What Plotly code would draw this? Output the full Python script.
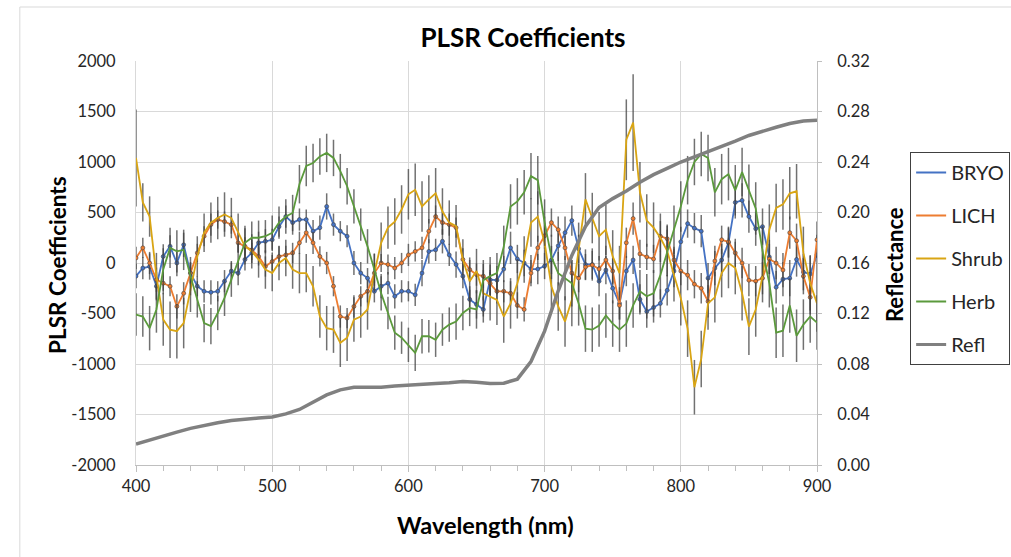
import plotly.graph_objects as go

wavelength = list(range(400, 901, 5))

bryo = [-130, -50, -35, -230, 65, 165, 0, 180, -100, -230,
        -280, -290, -280, -180, -80, -100, 35, 100, 200, 215,
        230, 360, 460, 400, 430, 430, 315, 350, 560, 380,
        315, 265, 0, -100, -150, -280, -230, -200, -330, -280,
        -280, -315, -100, 115, 130, 215, 80, -15, -130, -360,
        -410, -460, -165, -170, -60, 150, 40, 0, -60, -60,
        -30, 30, 170, 300, 420, 140, -15, -15, -180, -70,
        -250, -400, -80, 30, -360, -480, -440, -400, -270, -80,
        210, 390, 345, 315, -150, -50, 30, 200, 600, 620,
        460, 340, 360, 60, -240, -160, -150, 35, -90, -110,
        80]

lich = [50, 150, 0, -165, -200, -230, -430, -300, -100, 100,
        265, 380, 430, 410, 380, 200, 165, 130, 65, -35,
        15, 65, 80, 100, 200, 300, 200, 65, 0, -230,
        -530, -545, -430, -330, -280, -100, 0, -15, -50, 0,
        80, 115, 150, 315, 460, 400, 380, 350, 35, -65,
        -115, -130, -200, -280, -280, -300, -420, -460, -100, 150,
        270, 400, 330, 150, -100, -150, -40, -20, -60, 30,
        -80, -420, 200, 440, 90, 60, 40, 265, 240, 30,
        -80, -120, -210, -250, -380, 20, 230, 210, 100, 0,
        -170, -180, -150, 40, 0, -70, 300, 220, -130, -340,
        230]

shrub = [1040, 600, 460, -130, -560, -660, -675, -595, -265, 65,
         300, 400, 445, 480, 445, 300, 165, 115, 35, -65,
         -100, 0, 50, -65, -100, -100, -230, -530, -645, -660,
         -790, -740, -560, -530, -460, -100, 200, 350, 410, 530,
         680, 725, 560, 630, 690, 510, 400, 365, 35, -180,
         -80, -300, -330, -365, -530, -400, -200, 35, 400, 460,
         200, -230, -430, -580, -365, 130, 630, 445, 265, 330,
         65, -100, 1220, 1390, 700, 420, 350, 250, 120, -120,
         -350, -650, -1230, -950, -400, -340, -100, 0, -50, -300,
         -630, -460, -130, 330, 545, 580, 690, 710, 100, -200,
         -400]

herb = [-510, -530, -645, -460, -65, 150, 115, 130, -130, -360,
        -595, -625, -495, -345, -165, 35, 200, 250, 250, 265,
        300, 400, 460, 495, 780, 960, 990, 1055, 1090, 1040,
        910, 760, 560, 380, 165, -65, -300, -495, -690, -740,
        -810, -890, -725, -725, -760, -660, -610, -580, -495, -445,
        -460, -170, -130, -100, 160, 560, 610, 700, 860, 820,
        400, 60, -100, -150, -200, -400, -650, -660, -620, -520,
        -600, -660, -600, -420, -280, -330, -300, -120, 100, 330,
        560, 820, 1000, 1080, 1040, 700, 830, 880, 720, 900,
        725, 540, 120, -200, -690, -670, -420, -720, -610, -530,
        -590]

bryo_err = [120, 110, 130, 140, 120, 110, 130, 120, 110, 100,
            110, 120, 100, 110, 100, 120, 110, 100, 110, 120,
            110, 100, 110, 120, 110, 100, 110, 120, 130, 110,
            100, 110, 120, 110, 100, 110, 120, 110, 120, 110,
            100, 110, 130, 120, 110, 120, 110, 130, 120, 130,
            140, 130, 150, 140, 130, 160, 140, 130, 140, 150,
            130, 140, 150, 160, 150, 140, 150, 160, 150, 140,
            150, 160, 150, 140, 150, 160, 150, 140, 150, 160,
            150, 140, 150, 160, 150, 170, 160, 150, 160, 170,
            160, 170, 180, 170, 160, 170, 180, 170, 180, 190,
            200]

lich_err = [110, 100, 110, 120, 110, 100, 120, 110, 100, 90,
            100, 110, 90, 100, 90, 100, 90, 100, 90, 100,
            90, 100, 90, 100, 110, 100, 110, 100, 110, 100,
            110, 100, 110, 100, 110, 100, 90, 100, 110, 100,
            110, 100, 110, 120, 110, 120, 110, 100, 110, 120,
            110, 120, 130, 120, 110, 120, 130, 120, 130, 120,
            130, 140, 130, 120, 130, 140, 130, 140, 130, 140,
            130, 140, 150, 160, 140, 130, 140, 150, 140, 130,
            140, 150, 140, 150, 160, 150, 140, 150, 140, 150,
            160, 150, 160, 150, 160, 170, 160, 170, 180, 170,
            180]

shrub_err = [480, 190, 200, 230, 260, 280, 270, 250, 220, 200,
             190, 200, 210, 220, 200, 190, 180, 170, 180, 190,
             180, 170, 180, 190, 200, 190, 200, 210, 220, 230,
             240, 230, 220, 210, 200, 190, 200, 210, 230, 240,
             250, 260, 250, 240, 250, 230, 220, 210, 200, 210,
             220, 230, 240, 250, 260, 250, 240, 230, 240, 250,
             260, 250, 240, 250, 260, 270, 260, 250, 240, 250,
             260, 270, 400, 480, 300, 260, 250, 240, 250, 260,
             270, 280, 270, 280, 260, 250, 240, 250, 260, 270,
             280, 270, 260, 250, 240, 250, 260, 270, 260, 270,
             280]

herb_err = [210, 200, 220, 230, 210, 200, 210, 200, 190, 180,
            190, 180, 170, 180, 170, 160, 170, 160, 170, 160,
            170, 160, 170, 180, 190, 200, 190, 180, 190, 180,
            170, 180, 170, 160, 170, 160, 170, 160, 170, 160,
            170, 180, 170, 160, 170, 160, 170, 180, 170, 180,
            190, 200, 190, 200, 210, 220, 230, 220, 230, 240,
            230, 220, 210, 220, 230, 220, 230, 220, 210, 220,
            230, 220, 230, 220, 210, 220, 230, 240, 230, 240,
            250, 240, 230, 220, 230, 240, 250, 260, 250, 240,
            250, 260, 250, 240, 250, 260, 270, 260, 250, 260,
            270]

refl_wavelength = list(range(400, 901, 10))
refl = [0.0166, 0.0195, 0.0225, 0.0260, 0.0290, 0.0315, 0.0335, 0.0352, 0.0364, 0.0372,
        0.0380, 0.0405, 0.0440, 0.0495, 0.0555, 0.0595, 0.0615, 0.0615, 0.0615, 0.0625,
        0.0634, 0.0640, 0.0645, 0.0652, 0.0662, 0.0655, 0.0645, 0.0648, 0.0680, 0.0820,
        0.1060, 0.1380, 0.1660, 0.1890, 0.2040, 0.2110, 0.2170, 0.2240, 0.2300, 0.2350,
        0.2400, 0.2440, 0.2480, 0.2520, 0.2565, 0.2610, 0.2645, 0.2675, 0.2705, 0.2725,
        0.2730]

y_ticks = [-2000, -1500, -1000, -500, 0, 500, 1000, 1500, 2000]
y2_ticks = [0.00, 0.04, 0.08, 0.12, 0.16, 0.20, 0.24, 0.28, 0.32]
x_ticks = [400, 500, 600, 700, 800, 900]

series = [
    ("BRYO", bryo, bryo_err, "#4472c4", True),
    ("LICH", lich, lich_err, "#ed7d31", True),
    ("Shrub", shrub, shrub_err, "#d9a514", False),
    ("Herb", herb, herb_err, "#5b9a3c", False),
]

FONT = "Lato, 'Open Sans', sans-serif"
fig = go.Figure()

for name, vals, err, color, mark in series:
    fig.add_trace(go.Scatter(
        x=wavelength, y=vals, name=name, mode="lines+markers" if mark else "lines",
        line=dict(color=color, width=1.8),
        marker=dict(size=4, color=color, line=dict(color="#404040", width=0.6)),
        error_y=dict(type="data", array=err, visible=True, color="rgba(65,65,65,0.75)",
                     thickness=1.5, width=0),
        showlegend=False, hoverinfo="skip"))

fig.add_trace(go.Scatter(
    x=refl_wavelength, y=refl, name="Refl", mode="lines", yaxis="y2",
    line=dict(color="#808080", width=3.5), showlegend=False))

# legend-only entries (plain lines, as in the reference)
for name, vals, err, color, mark in series:
    fig.add_trace(go.Scatter(x=[None], y=[None], name=name, mode="lines",
                             line=dict(color=color, width=2),
                             legendgroup=name, showlegend=True))
fig.add_trace(go.Scatter(x=[None], y=[None], name="Refl", mode="lines",
                         line=dict(color="#808080", width=3), legendgroup="Refl", showlegend=True))

grid = "#d9d9d9"
axis_font = dict(family=FONT, size=16.5, color="#262626")

fig.update_layout(
    width=1011, height=557,
    margin=dict(l=136, r=194, t=61, b=92, autoexpand=False),
    paper_bgcolor="white", plot_bgcolor="white",
    font=dict(family=FONT, color="#262626"),
    title=dict(text="<b>PLSR Coefficients</b>", x=523 / 1011, xanchor="center",
               y=1 - 38 / 557, yanchor="middle", font=dict(family=FONT, size=26, color="#000000")),
    xaxis=dict(range=[400, 900], tickvals=x_ticks, ticktext=[str(v) for v in x_ticks],
               showgrid=True, gridcolor=grid, gridwidth=1,
               showline=True, linecolor="#bfbfbf", linewidth=1, mirror=False,
               ticks="outside", ticklen=6, tickcolor="#bfbfbf",
               minor=dict(dtick=20, ticks="outside", ticklen=5, tickcolor="#bfbfbf", showgrid=False),
               tickfont=axis_font, zeroline=False),
    yaxis=dict(range=[-2000, 2000], tickvals=y_ticks, ticktext=[str(v) for v in y_ticks],
               showgrid=True, gridcolor=grid, gridwidth=1,
               showline=True, linecolor="#d9d9d9", zeroline=False,
               ticks="", tickfont=axis_font, ticklabelstandoff=16),
    yaxis2=dict(range=[0, 0.32], tickvals=y2_ticks, ticktext=[f"{v:.2f}" for v in y2_ticks],
                overlaying="y", side="right", showgrid=False,
                showline=True, linecolor="#bfbfbf", linewidth=1,
                ticks="outside", ticklen=4, tickcolor="#bfbfbf",
                tickfont=axis_font, zeroline=False, ticklabelstandoff=12),
    legend=dict(x=(909 - 136) / 680, y=(465 - 152) / 404, xanchor="left", yanchor="top",
                bordercolor="#404040", borderwidth=1, bgcolor="white",
                font=dict(family=FONT, size=20, color="#262626"),
                tracegroupgap=14, itemwidth=30),
    annotations=[
        dict(text="<b>PLSR Coefficients</b>", xref="paper", yref="paper",
             x=(57 - 136) / 680, y=(465 - 265) / 404, textangle=-90, showarrow=False,
             xanchor="center", yanchor="middle", font=dict(family=FONT, size=22.5, color="#000000")),
        dict(text="<b>Reflectance</b>", xref="paper", yref="paper",
             x=(893 - 136) / 680, y=(465 - 265) / 404, textangle=-90, showarrow=False,
             xanchor="center", yanchor="middle", font=dict(family=FONT, size=22, color="#000000")),
        dict(text="<b>Wavelength (nm)</b>", xref="paper", yref="paper",
             x=(485 - 136) / 680, y=(465 - 525) / 404, showarrow=False,
             xanchor="center", yanchor="middle", font=dict(family=FONT, size=23.5, color="#000000")),
    ],
    shapes=[
        dict(type="rect", xref="paper", yref="paper",
             x0=(20 - 136) / 680, x1=(1030 - 136) / 680,
             y0=(465 - 580) / 404, y1=(465 - 7) / 404,
             line=dict(color="#d9d9d9", width=1), fillcolor="rgba(0,0,0,0)", layer="below"),
    ],
)

fig.write_html("out.html", config={"displayModeBar": False},
               post_script="document.body.style.margin='0';")
